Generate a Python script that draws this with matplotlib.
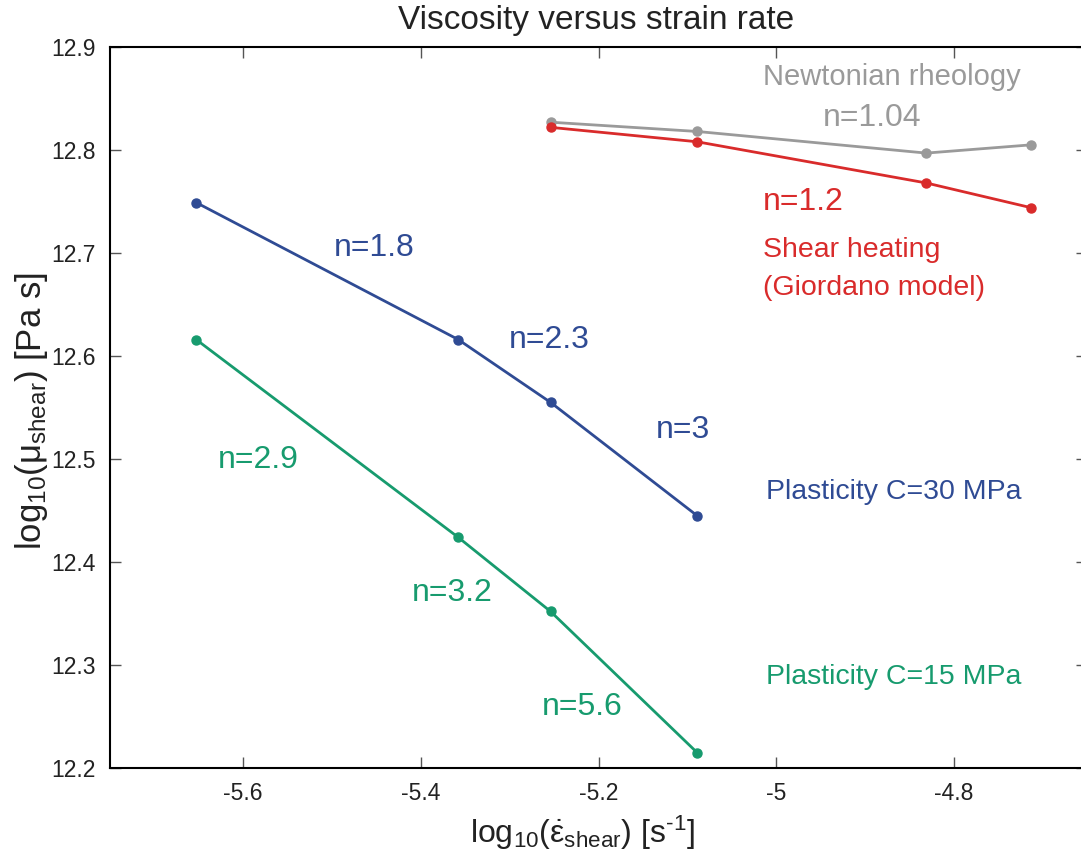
import matplotlib
matplotlib.use("Agg")
import matplotlib.pyplot as plt

plt.rcParams['font.family'] = ['Liberation Sans', 'DejaVu Sans']
plt.rcParams['mathtext.fontset'] = 'custom'
plt.rcParams['mathtext.rm'] = 'Liberation Sans'
plt.rcParams['mathtext.it'] = 'Liberation Sans'
plt.rcParams['axes.unicode_minus'] = False

# Data
x4 = [-5.254, -5.089, -4.831, -4.713]
newtonian = [12.827, 12.818, 12.797, 12.805]
shear_heating = [12.822, 12.808, 12.768, 12.744]
x_plast = [-5.653, -5.358, -5.254, -5.089]
plast30 = [12.749, 12.616, 12.555, 12.445]
plast15 = [12.616, 12.424, 12.352, 12.215]

xticks = [-5.6, -5.4, -5.2, -5.0, -4.8]
xticklabels = ['-5.6', '-5.4', '-5.2', '-5', '-4.8']
yticks = [12.2, 12.3, 12.4, 12.5, 12.6, 12.7, 12.8, 12.9]
yticklabels = ['12.2', '12.3', '12.4', '12.5', '12.6', '12.7', '12.8', '12.9']

grey = '#9a9a9a'
red = '#d92b2b'
blue = '#2f4b94'
green = '#179b6e'

fig = plt.figure(figsize=(10.81, 8.6), dpi=100)
ax = fig.add_axes([110/1081, 1-768/860, (1087-110)/1081, (768-47)/860])

lw = 2.0
ms = 6.5
ax.plot(x4, newtonian, '-o', color=grey, lw=lw, ms=ms)
ax.plot(x4, shear_heating, '-o', color=red, lw=lw, ms=ms)
ax.plot(x_plast, plast30, '-o', color=blue, lw=lw, ms=ms)
ax.plot(x_plast, plast15, '-o', color=green, lw=lw, ms=ms)

ax.set_xlim(-5.75, -4.65)
ax.set_ylim(12.2, 12.9)
ax.set_xticks(xticks)
ax.set_xticklabels(xticklabels)
ax.set_yticks(yticks)
ax.set_yticklabels(yticklabels)
ax.tick_params(direction='in', length=8, width=1, color='#555555',
               top=True, right=True, labelsize=16.5, pad=10, labelcolor='#222222')
for s in ax.spines.values():
    s.set_linewidth(1.5)

big = 23
small = 20.5
ax.text(-5.015, 12.871, 'Newtonian rheology', color=grey, fontsize=small+0.5, va='center', ha='left')
ax.text(-4.947, 12.831, 'n=1.04', color=grey, fontsize=big, va='center', ha='left')
ax.text(-5.015, 12.750, 'n=1.2', color=red, fontsize=big, va='center', ha='left')
ax.text(-5.015, 12.703, 'Shear heating', color=red, fontsize=small, va='center', ha='left')
ax.text(-5.015, 12.666, '(Giordano model)', color=red, fontsize=small, va='center', ha='left')
ax.text(-5.498, 12.705, 'n=1.8', color=blue, fontsize=big, va='center', ha='left')
ax.text(-5.301, 12.616, 'n=2.3', color=blue, fontsize=big, va='center', ha='left')
ax.text(-5.135, 12.528, 'n=3', color=blue, fontsize=big, va='center', ha='left')
ax.text(-5.011, 12.468, 'Plasticity C=30 MPa', color=blue, fontsize=small, va='center', ha='left')
ax.text(-5.629, 12.499, 'n=2.9', color=green, fontsize=big, va='center', ha='left')
ax.text(-5.410, 12.370, 'n=3.2', color=green, fontsize=big, va='center', ha='left')
ax.text(-5.264, 12.259, 'n=5.6', color=green, fontsize=big, va='center', ha='left')
ax.text(-5.011, 12.288, 'Plasticity C=15 MPa', color=green, fontsize=small, va='center', ha='left')

fig.text(596/1081, 1-20/860, 'Viscosity versus strain rate', fontsize=24, ha='center', va='center', color='#222222')
fig.text(582/1081, 1-833/860, r'log$_{10}$($\dot{\varepsilon}_{\mathrm{shear}}$) [s$^{\text{-1}}$]',
         fontsize=23, ha='center', va='center', color='#222222')
fig.text(32/1081, 1-411/860, r'log$_{10}$($\mu_{\mathrm{shear}}$) [Pa s]',
         fontsize=25, ha='center', va='center', rotation=90, color='#222222')

fig.savefig('out.png', dpi=100)
